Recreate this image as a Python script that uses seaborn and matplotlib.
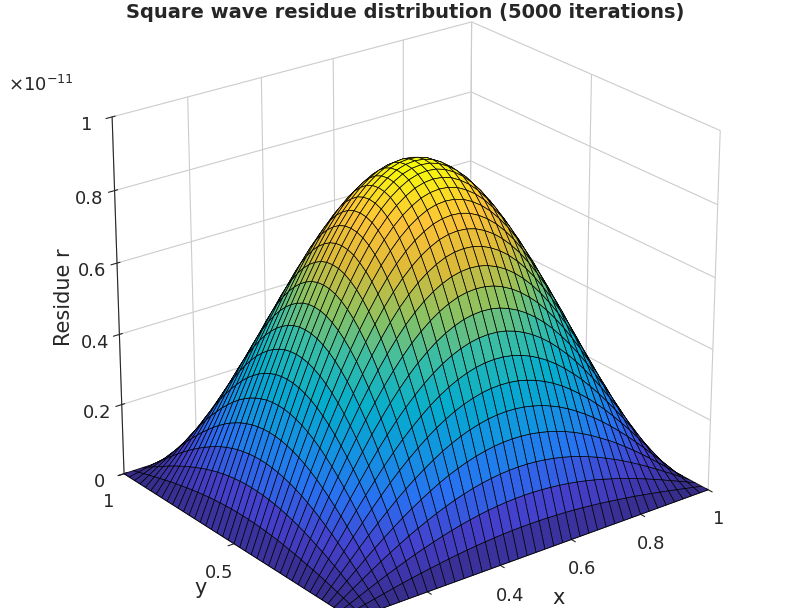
import numpy as np
import matplotlib
matplotlib.use("Agg")
import matplotlib.pyplot as plt
from matplotlib.colors import LinearSegmentedColormap
import seaborn as sns

# grid coordinates (41 points along each axis)
grid = np.linspace(0, 1, 41)
# profile of the residue along one axis (normalised)
profile = [0.000, 0.078, 0.156, 0.233, 0.309, 0.383, 0.454, 0.522, 0.588, 0.649,
           0.707, 0.760, 0.809, 0.853, 0.891, 0.924, 0.951, 0.972, 0.988, 0.997,
           1.000, 0.997, 0.988, 0.972, 0.951, 0.924, 0.891, 0.853, 0.809, 0.760,
           0.707, 0.649, 0.588, 0.522, 0.454, 0.383, 0.309, 0.233, 0.156, 0.078,
           0.000]
peak = 0.9e-11

parula = LinearSegmentedColormap.from_list("parula", [
    (0.21, 0.17, 0.53), (0.27, 0.25, 0.80), (0.16, 0.44, 0.95), (0.07, 0.58, 0.88),
    (0.02, 0.68, 0.80), (0.22, 0.74, 0.65), (0.55, 0.76, 0.38), (0.86, 0.73, 0.22),
    (0.99, 0.76, 0.22), (0.97, 0.98, 0.05)])

sns.set_style("white")
plt.rcParams["font.family"] = ["DejaVu Sans"]

X, Y = np.meshgrid(grid, grid)
p = np.array(profile)
Z = np.outer(p, p) * peak

fig = plt.figure(figsize=(8.1, 6.08), dpi=100)
ax = fig.add_axes([-0.08, -0.12, 1.16, 1.2], projection="3d")
ax.plot_surface(X, Y, Z, cmap=parula, edgecolor="black", linewidth=0.5,
                rstride=1, cstride=1, antialiased=True, shade=False)
ax.view_init(elev=24, azim=-127.5)
ax.set_box_aspect((1.15, 1.0, 1.0), zoom=0.95)
ax.set_xlim(0, 1)
ax.set_ylim(0, 1)
ax.set_zlim(0, 1e-11)
ax.set_xticks([0, 0.2, 0.4, 0.6, 0.8, 1])
ax.set_xticklabels(["0", "0.2", "0.4", "0.6", "0.8", "1"])
ax.set_yticks([0, 0.5, 1])
ax.set_yticklabels(["0", "0.5", "1"])
ax.set_zticks([0, 0.2e-11, 0.4e-11, 0.6e-11, 0.8e-11, 1e-11])
ax.set_zticklabels(["0", "0.2", "0.4", "0.6", "0.8", "1"])
ax.tick_params(labelsize=13)
ax.set_xlabel("x", fontsize=15)
ax.set_ylabel("y", fontsize=15)
ax.zaxis.set_rotate_label(False)
ax.set_zlabel("Residue r", fontsize=15, rotation=90)
for a in (ax.xaxis, ax.yaxis, ax.zaxis):
    a.set_pane_color((1, 1, 1, 1))
fig.suptitle("Square wave residue distribution (5000 iterations)",
             fontsize=14, fontweight="bold", y=0.995)
fig.text(0.01, 0.85, r"$\times10^{-11}$", fontsize=13)
fig.savefig("out.png", dpi=100)
